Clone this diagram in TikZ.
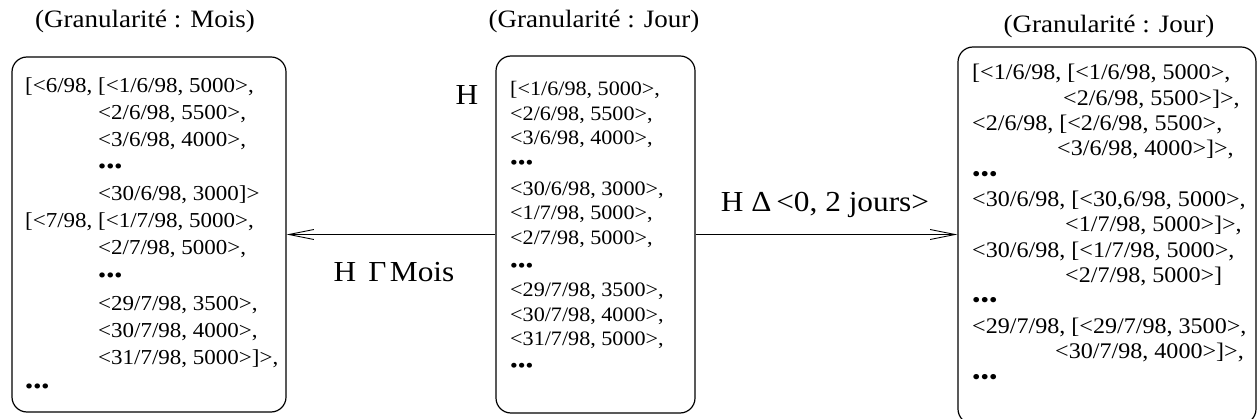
\documentclass[tikz,border=0pt]{standalone}
\usepackage{fontspec}
\setmainfont{Liberation Serif}[FakeStretch=1.08]
\usetikzlibrary{arrows.meta}
\newcommand{\leftfs}{\fontsize{21.3}{25}\selectfont}
\newcommand{\midfs}{\fontsize{20.5}{24}\selectfont}
\newcommand{\rightfs}{\fontsize{22.3}{26}\selectfont}
\newcommand{\titlefs}{\fontsize{25}{30}\selectfont}
\newcommand{\labfs}{\fontsize{29}{34}\selectfont}
\newcommand{\dotsb}{•••}
\tikzset{
  panel/.style={draw, line width=1.2pt, rounded corners=15pt, inner sep=0pt},
  entry/.style={anchor=base west, inner sep=0pt},
  lentry/.style={entry, font=\leftfs},
  mentry/.style={entry, font=\midfs},
  rentry/.style={entry, font=\rightfs},
  heading/.style={anchor=base, inner sep=0pt, font=\titlefs},
  oplabel/.style={anchor=base, inner sep=0pt, font=\labfs},
  oparrow/.style={line width=0.9pt, -{Straight Barb[length=25pt,width=10pt,line width=0.9pt]}}
}
\begin{document}
\begin{tikzpicture}[x=1pt, y=-1pt]
\useasboundingbox (0,0) rectangle (1257,419);
\clip (0,0) rectangle (1257,419);

% panels
\node[panel, minimum width=274pt, minimum height=355pt] (left) at (149,234.5) {};
\node[panel, minimum width=199pt, minimum height=357pt] (mid) at (595.5,234.5) {};
\node[panel, minimum width=298pt, minimum height=377pt] (right) at (1107,235.5) {};

% headings
\node[heading] (tl) at (145,28) {(Granularité : Mois)};
\node[heading] (tm) at (594,28) {(Granularité : Jour)};
\node[heading] (tr) at (1109,33) {(Granularité : Jour)};

% monthly series
\node[lentry] (a1)  at (25,93)  {[<6/98, [<1/6/98, 5000>,};
\node[lentry] (a2)  at (98,120) {<2/6/98, 5500>,};
\node[lentry] (a3)  at (98,147) {<3/6/98, 4000>,};
\node[lentry] (a4)  at (98,174) {\dotsb};
\node[lentry] (a5)  at (98,201) {<30/6/98, 3000]>};
\node[lentry] (a6)  at (25,228) {[<7/98, [<1/7/98, 5000>,};
\node[lentry] (a7)  at (98,255) {<2/7/98, 5000>,};
\node[lentry] (a8)  at (98,283) {\dotsb};
\node[lentry] (a9)  at (98,310) {<29/7/98, 3500>,};
\node[lentry] (a10) at (98,337) {<30/7/98, 4000>,};
\node[lentry] (a11) at (98,364) {<31/7/98, 5000>]>,};
\node[lentry] (a12) at (25,393) {\dotsb};

% daily series H
\node[mentry] (b1)  at (510,96)  {[<1/6/98, 5000>,};
\node[mentry] (b2)  at (510,121) {<2/6/98, 5500>,};
\node[mentry] (b3)  at (510,145) {<3/6/98, 4000>,};
\node[mentry] (b4)  at (510,170) {\dotsb};
\node[mentry] (b5)  at (510,196) {<30/6/98, 3000>,};
\node[mentry] (b6)  at (510,220) {<1/7/98, 5000>,};
\node[mentry] (b7)  at (510,245) {<2/7/98, 5000>,};
\node[mentry] (b8)  at (510,273) {\dotsb};
\node[mentry] (b9)  at (510,297) {<29/7/98, 3500>,};
\node[mentry] (b10) at (510,321) {<30/7/98, 4000>,};
\node[mentry] (b11) at (510,345) {<31/7/98, 5000>,};
\node[mentry] (b12) at (510,372) {\dotsb};
\node[oplabel] (h) at (467,105) {H};

% sliding windows
\node[rentry] (c1)  at (972,80)     {[<1/6/98, [<1/6/98, 5000>,};
\node[rentry] (c2)  at (1063,105.3) {<2/6/98, 5500>]>,};
\node[rentry] (c3)  at (972,130.6)  {<2/6/98, [<2/6/98, 5500>,};
\node[rentry] (c4)  at (1057,155.9) {<3/6/98, 4000>]>,};
\node[rentry] (c5)  at (972,181.2)  {\dotsb};
\node[rentry] (c6)  at (972,206.5)  {<30/6/98, [<30,6/98, 5000>,};
\node[rentry] (c7)  at (1065,231.8) {<1/7/98, 5000>]>,};
\node[rentry] (c8)  at (972,257.1)  {<30/6/98, [<1/7/98, 5000>,};
\node[rentry] (c9)  at (1065,282.4) {<2/7/98, 5000>]};
\node[rentry] (c10) at (972,307.7)  {\dotsb};
\node[rentry] (c11) at (972,333.0)  {<29/7/98, [<29/7/98, 3500>,};
\node[rentry] (c12) at (1055,358.3) {<30/7/98, 4000>]>,};
\node[rentry] (c13) at (972,384.6)  {\dotsb};

% operators
\draw[oparrow] (mid.west) -- (left.east);
\draw[oparrow] (mid.east) -- (mid.east -| right.west);
\node[oplabel] (gamma) at (394,282) {H\hspace{0.42em}Γ\hspace{0.12em}Mois};
\node[oplabel] (delta) at (825,212) {H Δ\,<0, 2 jours>};
\end{tikzpicture}
\end{document}
